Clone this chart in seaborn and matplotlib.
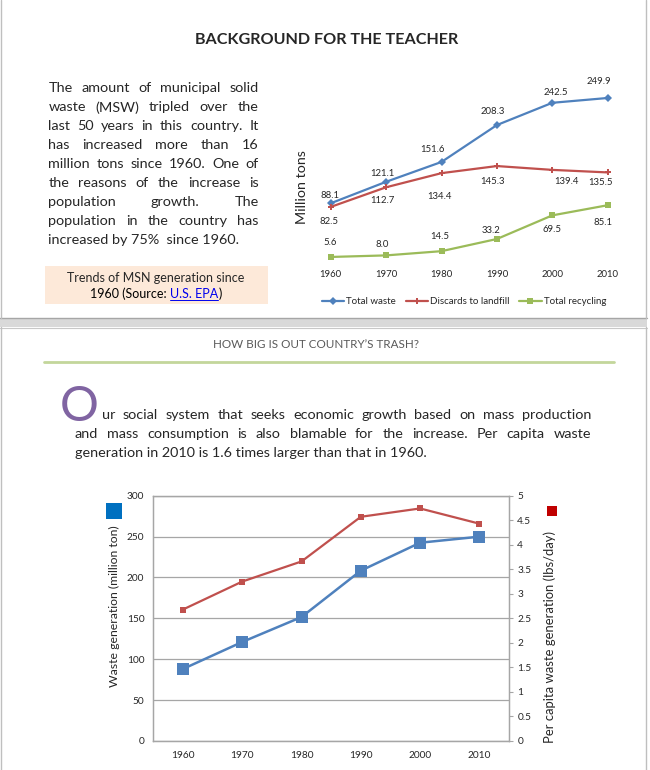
import numpy as np
import matplotlib
matplotlib.use("Agg")
import matplotlib.pyplot as plt
from matplotlib.patches import Rectangle
import seaborn as sns

# data
years = [1960, 1970, 1980, 1990, 2000, 2010]
year_labels = [str(y) for y in years]
total_waste = [88.1, 121.1, 151.6, 208.3, 242.5, 249.9]
discards = [82.5, 112.7, 134.4, 145.3, 139.4, 135.5]
recycling = [5.6, 8.0, 14.5, 33.2, 69.5, 85.1]
per_capita = [2.68, 3.25, 3.66, 4.57, 4.74, 4.43]

left_ticks = [0, 50, 100, 150, 200, 250, 300]
right_ticks = [0, 0.5, 1, 1.5, 2, 2.5, 3, 3.5, 4, 4.5, 5]

intro_lines = [
    "The amount of municipal solid",
    "waste (MSW) tripled over the",
    "last 50 years in this country.  It",
    "has increased more than 16",
    "million tons since 1960. One of",
    "the reasons of the increase is",
    "population growth. The",
    "population in the country has",
    "increased by 75%  since 1960.",
]
body_lines = [
    "ur social system that seeks economic growth based on mass production",
    "and mass consumption is also blamable for the increase.  Per capita waste",
    "generation in 2010 is 1.6 times larger than that in 1960.",
]

# label offsets (pixels) for the top chart data labels
total_off = [(-1, 8), (-4, 8), (-9, 12), (-4, 14), (4, 10), (-9, 16)]
discard_off = [(-2, -15), (-4, -13), (-2, -23), (-4, -15), (14, -12), (-7, -10)]
recycle_off = [(-1, 14), (-4, 11), (-2, 15), (-6, 8), (0, -14), (-5, -17)]

BLUE = "#4F81BD"
RED = "#C0504D"
GREEN = "#9BBB59"
GRID = "#A6A6A6"

sns.set_theme(style="white")
plt.rcParams["font.family"] = ["Lato", "DejaVu Sans"]

W, H = 650, 770
fig = plt.figure(figsize=(6.5, 7.7), dpi=100)


def box(x0, y0, x1, y1):
    return [x0 / W, 1 - y1 / H, (x1 - x0) / W, (y1 - y0) / H]


# background axes in pixel coordinates
bg = fig.add_axes([0, 0, 1, 1], zorder=0)
bg.set_xlim(0, W)
bg.set_ylim(H, 0)
bg.axis("off")

bg.add_patch(Rectangle((0, 318), 647, 9, color="#D9D9D9", lw=0))
bg.plot([0, 647], [318, 318], color="#A6A6A6", lw=1)
bg.plot([0, 647], [327.5, 327.5], color="#C8C8C8", lw=0.8)
for xb in (1, 645.5):
    bg.plot([xb, xb], [0, 318], color="#BFBFBF", lw=1)
    bg.plot([xb, xb], [327, 770], color="#BFBFBF", lw=1)

renderer = fig.canvas.get_renderer()


def justified(lines, x0, x1, y0, step, size, first_x0=None):
    for i, line in enumerate(lines):
        y = y0 + i * step
        start = first_x0 if (i == 0 and first_x0 is not None) else x0
        words = line.split()
        if i == len(lines) - 1:
            bg.text(start, y, line, fontsize=size, va="center", ha="left")
            continue
        arts = [bg.text(0, y, w, fontsize=size, va="center", ha="left") for w in words]
        widths = [a.get_window_extent(renderer).width for a in arts]
        gap = (x1 - start - sum(widths)) / (len(words) - 1)
        x = start
        for a, w in zip(arts, widths):
            a.set_x(x)
            x += w + gap


# ---- top panel ----
bg.text(327, 40, "BACKGROUND FOR THE TEACHER", fontsize=11.6, fontweight="bold",
        ha="center", va="center")
justified(intro_lines, 48.3, 258.7, 88.3, 19, 10.4)

bg.add_patch(Rectangle((45, 266), 222.7, 38, color="#FDE9D9", lw=0))
bg.text(156, 277.7, "Trends of MSN generation since", fontsize=9, ha="center", va="center")
parts = [("1960 (Source: ", "black"), ("U.S. EPA", "#0000EE"), (")", "black")]
arts = [bg.text(0, 294, p, fontsize=9, color=c, ha="left", va="center") for p, c in parts]
widths = [a.get_window_extent(renderer).width for a in arts]
x = 156 - sum(widths) / 2
for i, (a, w) in enumerate(zip(arts, widths)):
    a.set_x(x)
    if i == 1:
        bg.plot([x, x + w], [300, 300], color="#0000EE", lw=0.7)
    x += w

ax_top = fig.add_axes(box(310, 70, 630, 262), zorder=1)
ax_top.set_facecolor("none")
sns.lineplot(x=years, y=total_waste, ax=ax_top, color=BLUE, marker="D", markersize=4,
             markeredgewidth=0, linewidth=1.6, label="Total waste")
sns.lineplot(x=years, y=discards, ax=ax_top, color=RED, marker="P", markersize=4.5,
             markeredgewidth=0, linewidth=1.6, label="Discards to landfill")
sns.lineplot(x=years, y=recycling, ax=ax_top, color=GREEN, marker="s", markersize=4.5,
             markeredgewidth=0, linewidth=1.6, label="Total recycling")
for vals, offs in ((total_waste, total_off), (discards, discard_off), (recycling, recycle_off)):
    for yr, v, (dx, dy) in zip(years, vals, offs):
        ax_top.annotate(f"{v:.1f}", (yr, v), xytext=(dx, dy), textcoords="offset pixels",
                        ha="center", va="center", fontsize=6.9)
ax_top.set_xlim(1956.26, 2014.03)
ax_top.set_ylim(-2.15, 292.9)
ax_top.set_xticks(years)
ax_top.set_xticklabels(year_labels, fontsize=6.9)
ax_top.set_yticks([])
ax_top.tick_params(axis="x", length=0, pad=6)
for s in ax_top.spines.values():
    s.set_visible(False)
handles, labels = ax_top.get_legend_handles_labels()
ax_top.get_legend().remove()
fig.legend(handles, labels, loc="center", bbox_to_anchor=(464 / W, 1 - 302 / H), ncol=3,
           frameon=False, fontsize=7, handlelength=2.3, handletextpad=0.2,
           columnspacing=1.0)
bg.text(301.7, 187, "Million tons", fontsize=10.3, rotation=90, ha="center", va="center")

# ---- bottom panel ----
bg.text(316, 345, "HOW BIG IS OUT COUNTRY\u2019S TRASH?", fontsize=8.4, color="#595959",
        ha="center", va="center")
bg.plot([44, 614], [362, 362], color="#C3D69B", lw=2)
bg.text(60, 421, "O", fontsize=35, color="#8064A2", ha="left", va="baseline")
justified(body_lines, 74.7, 591, 415, 19, 10.4, first_x0=101.7)

ax_b = fig.add_axes(box(153.3, 495.7, 509, 741), zorder=1)
ax_b.set_facecolor("none")
sns.lineplot(x=year_labels, y=total_waste, ax=ax_b, color=BLUE, marker="s", markersize=8,
             markeredgewidth=0, linewidth=1.8)
ax_b.set_xlim(-0.5, 5.5)
ax_b.set_ylim(0, 300)
ax_b.set_yticks(left_ticks)
ax_b.set_yticklabels([str(t) for t in left_ticks], fontsize=7.3)
ax_b.tick_params(axis="x", labelsize=7.3, length=0, pad=7)
ax_b.tick_params(axis="y", length=0, pad=6.5)
ax_b.grid(axis="y", color=GRID, lw=0.9)
ax_b.set_xlabel("")
ax_b.set_ylabel("")
for s in ax_b.spines.values():
    s.set_color(GRID)
    s.set_linewidth(0.9)

ax_r = ax_b.twinx()
ax_r.set_zorder(2)
sns.lineplot(x=year_labels, y=per_capita, ax=ax_r, color=RED, marker="s", markersize=4,
             markeredgewidth=0, linewidth=1.6)
ax_r.set_ylim(0, 5)
ax_r.set_yticks(right_ticks)
ax_r.set_yticklabels([f"{t:g}" for t in right_ticks], fontsize=7.3)
ax_r.tick_params(axis="y", direction="out", length=3, color=GRID, width=0.8, pad=3)
ax_r.set_ylabel("")
ax_r.grid(False)
for s in ax_r.spines.values():
    s.set_color(GRID)
    s.set_linewidth(0.9)

bg.add_patch(Rectangle((106, 502.7), 16, 16, color="#0070C0", lw=0))
bg.add_patch(Rectangle((547, 505.7), 10, 10, color="#C00000", lw=0))
bg.text(114, 606, "Waste generation (million ton)", fontsize=8.8, rotation=90,
        ha="center", va="center")
bg.text(550, 637, "Per capita waste generation (lbs/day)", fontsize=9.4, rotation=90,
        ha="center", va="center")

fig.savefig("out.png", dpi=100)
